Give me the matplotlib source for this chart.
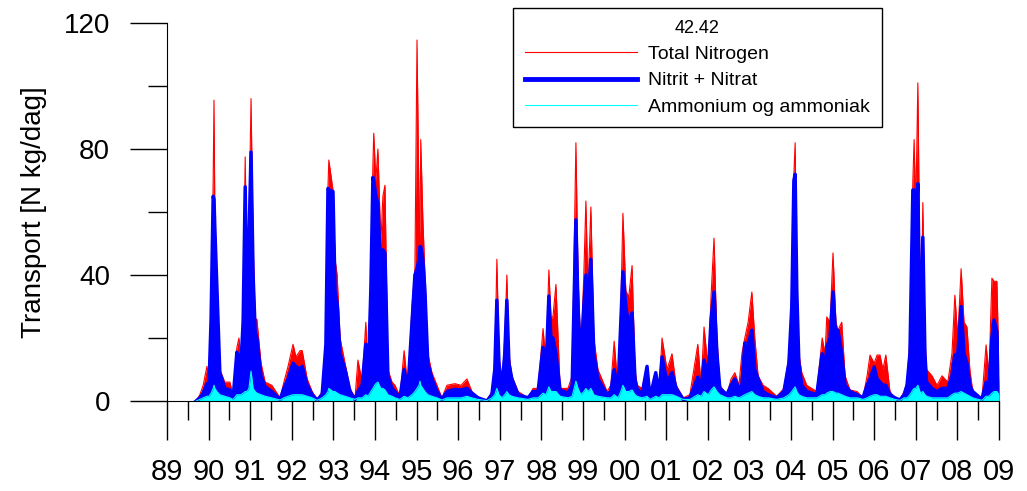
import matplotlib
matplotlib.use("Agg")
import matplotlib.pyplot as plt
import numpy as np

plt.rcParams['font.family'] = ['Liberation Sans', 'DejaVu Sans']

# decimal year, total N, nitrit+nitrat, ammonium (kg N/dag)
year = [1989.70, 1989.79, 1989.87, 1989.96, 1990.01, 1990.06, 1990.11, 1990.13, 1990.15, 1990.20,
        1990.27, 1990.39, 1990.51, 1990.59, 1990.68, 1990.73, 1990.78, 1990.83, 1990.88, 1990.92,
        1990.97, 1991.02, 1991.07, 1991.12, 1991.16, 1991.26, 1991.36, 1991.52, 1991.72, 1991.81,
        1991.91, 1992.03, 1992.10, 1992.20, 1992.25, 1992.37, 1992.49, 1992.61, 1992.73, 1992.82,
        1992.87, 1992.89, 1992.99, 1993.04, 1993.09, 1993.16, 1993.28, 1993.40, 1993.52, 1993.59,
        1993.69, 1993.78, 1993.83, 1993.90, 1993.95, 1993.97, 1994.02, 1994.07, 1994.14, 1994.19,
        1994.24, 1994.31, 1994.41, 1994.48, 1994.60, 1994.70, 1994.79, 1994.89, 1994.96, 1995.01,
        1995.06, 1995.08, 1995.10, 1995.15, 1995.20, 1995.27, 1995.37, 1995.49, 1995.61, 1995.73,
        1995.92, 1996.07, 1996.21, 1996.33, 1996.48, 1996.69, 1996.81, 1996.88, 1996.93, 1996.98,
        1997.05, 1997.12, 1997.17, 1997.22, 1997.29, 1997.44, 1997.68, 1997.80, 1997.92, 1998.04,
        1998.11, 1998.18, 1998.23, 1998.28, 1998.35, 1998.45, 1998.64, 1998.74, 1998.83, 1998.88,
        1998.95, 1999.02, 1999.07, 1999.12, 1999.19, 1999.26, 1999.36, 1999.58, 1999.67, 1999.75,
        1999.84, 1999.91, 1999.96, 2000.03, 2000.10, 2000.18, 2000.25, 2000.30, 2000.42, 2000.54,
        2000.61, 2000.75, 2000.83, 2000.90, 2001.02, 2001.14, 2001.24, 2001.41, 2001.57, 2001.76,
        2001.84, 2001.91, 2002.01, 2002.08, 2002.15, 2002.22, 2002.29, 2002.46, 2002.56, 2002.65,
        2002.75, 2002.82, 2002.89, 2002.97, 2003.06, 2003.13, 2003.21, 2003.33, 2003.45, 2003.66,
        2003.83, 2003.95, 2004.02, 2004.07, 2004.10, 2004.14, 2004.19, 2004.26, 2004.38, 2004.50,
        2004.62, 2004.75, 2004.82, 2004.86, 2004.94, 2005.01, 2005.08, 2005.13, 2005.22, 2005.30,
        2005.42, 2005.59, 2005.73, 2005.83, 2005.90, 2006.00, 2006.07, 2006.14, 2006.21, 2006.28,
        2006.38, 2006.50, 2006.62, 2006.72, 2006.79, 2006.86, 2006.93, 2006.96, 2007.00, 2007.05,
        2007.10, 2007.12, 2007.17, 2007.22, 2007.26, 2007.39, 2007.51, 2007.63, 2007.77, 2007.87,
        2007.94, 2008.01, 2008.09, 2008.16, 2008.23, 2008.30, 2008.37, 2008.59, 2008.69, 2008.76,
        2008.83, 2008.88, 2008.95, 2009.00]

total_n = [0, 2, 5, 11, 6, 26, 70, 95.5, 60, 38,
           10, 6, 6, 2, 17, 20, 13, 31, 77.5, 40,
           55, 96, 50, 26, 26, 12, 6, 5, 1, 6,
           11, 18, 14, 16, 16, 7, 3, 0.5, 3, 20,
           68, 76.5, 67, 45, 40, 20, 12, 4, 1, 13,
           6, 25, 6, 40, 75, 85, 70, 80, 50, 65,
           68.5, 10, 6, 5, 1.5, 16, 4, 30, 42, 114.6,
           60, 50, 83, 58, 40, 15, 9, 5, 1, 5,
           5.5, 5, 7, 3, 1, 0.3, 3, 12, 45, 15,
           4, 20, 40, 15, 8, 3, 1, 4, 4, 23,
           12, 41.6, 26, 27, 37, 4, 4, 8, 82, 40,
           15, 40, 63.5, 35, 61.6, 20, 10, 3, 5, 19,
           4, 30, 59.6, 35, 33, 43, 10, 5, 4, 11,
           2, 9, 3, 20, 10, 15, 5, 1, 2, 18,
           5, 23.5, 10, 33.6, 51.7, 20, 5, 2, 7, 9,
           5, 15, 20, 25, 34.6, 20, 8, 5, 4, 1.5,
           4, 14, 35, 72, 82, 40, 15, 9, 5, 4,
           3, 20, 15, 26.7, 25, 47, 25, 22.5, 25, 8,
           3.5, 3, 1, 8, 14.6, 12, 14.6, 14.6, 10, 14.6,
           3, 1, 0.3, 3, 6, 20, 70, 83, 60, 101,
           40, 20, 63, 20, 10, 8, 5, 8, 6, 15,
           33.6, 20, 42, 25, 23.5, 10, 3, 0.5, 17.8, 8,
           39, 38, 38, 10]

nitrat = [0, 1, 2.5, 5.5, 5, 26, 65, 64, 55, 36,
          9, 4, 3.5, 1, 15.5, 14, 12, 25, 68, 30,
          50, 79, 40, 22, 20, 8, 4.5, 3, 0.5, 4,
          7, 12, 11, 10, 11, 5, 2, 0.3, 2, 18,
          67.5, 67, 66.5, 35, 31, 15, 10, 3, 0.5, 3,
          5, 18, 5, 35, 71, 70, 65, 63, 40, 48,
          47, 8, 4, 3, 1, 10, 3.5, 25, 40, 42,
          45, 49, 49, 45, 35, 12, 7, 3, 0.5, 3,
          3.7, 3.5, 4, 2.5, 1, 0, 2, 10, 32, 12,
          3.5, 15, 32, 12, 7, 2, 1, 3, 3, 17,
          10, 33.3, 20, 20, 15, 3.5, 2.5, 5, 57.5, 30,
          12, 30, 40, 30, 45, 15, 7, 2, 3, 10,
          3, 25, 41, 30, 24, 28, 7, 4, 2, 11,
          1, 9, 2, 14, 6, 9, 4, 0.5, 1, 7.6,
          4, 13, 8, 26, 34.6, 15, 4, 2, 5, 7,
          4, 5, 18.4, 18, 22.5, 10, 7, 3, 2, 1,
          3, 12, 30, 70, 72, 35, 12, 5, 3, 2.5,
          2, 15, 10, 17, 20, 34.6, 20, 22.5, 15, 5,
          3, 2, 1, 5, 7, 10.8, 7, 6, 5, 5,
          2, 1, 0.3, 2, 5, 15, 67, 67, 55, 69,
          20, 17, 52, 15, 6, 4, 3, 4, 4, 8,
          14.6, 15, 30, 15, 12, 5, 3, 0.5, 6, 5,
          20, 25.7, 22, 5]

ammonium = [0, 0.5, 1, 1.5, 1.5, 2.5, 4, 5, 4, 3,
            2, 1.5, 1, 0.5, 2, 2, 2, 2.5, 3, 3,
            4, 9.5, 4, 3, 2.5, 2, 1.5, 1, 0.3, 1,
            1.5, 2, 2, 2, 2, 1.5, 1, 0.2, 1, 2,
            3, 4, 3, 3, 2.5, 2, 1.5, 1, 0.5, 1,
            1, 2, 1.5, 3, 4, 4.5, 5.5, 6, 4, 4,
            3.5, 2, 1.5, 1, 0.5, 1.5, 1, 2, 3, 4,
            5, 6.3, 5, 4, 3, 2, 1.5, 1, 0.3, 1,
            1, 1, 1.5, 1, 0.5, 0.1, 1, 2, 4, 2,
            1, 2, 3, 2, 1.5, 1, 0.5, 1, 1, 2.5,
            2, 4.5, 3, 3, 3, 1.5, 1, 1.5, 6.3, 4,
            2, 3, 4, 3, 4, 2, 1.5, 1, 1, 2,
            1, 3, 5, 3, 3, 3.5, 2, 1.5, 1, 1.5,
            0.5, 1.5, 1, 2, 2, 2, 1.5, 0.5, 0.5, 2,
            1.5, 3, 2, 3.5, 4.5, 3, 2, 1, 1, 1.5,
            1, 1.5, 2, 2.5, 3, 2, 1.5, 1, 1, 0.5,
            1, 2, 3, 4, 4.5, 3, 2, 1.5, 1, 1,
            1, 2, 2, 2.5, 3, 3, 2.5, 2.5, 2, 1.5,
            1, 1, 0.5, 1, 1.5, 2, 2, 1.5, 1.5, 1.5,
            1, 0.5, 0.2, 1, 1, 2, 3.5, 4, 4, 5,
            3, 2.5, 3, 2, 1.5, 1, 1, 1, 1, 2,
            2.5, 2.5, 3, 2.5, 2, 1.5, 1, 0.2, 1.5, 1.5,
            2.5, 3, 3, 2]

year_labels = ['89', '90', '91', '92', '93', '94', '95', '96', '97', '98', '99',
               '00', '01', '02', '03', '04', '05', '06', '07', '08', '09']

fig = plt.figure(figsize=(10.27, 4.91), dpi=100)
ax = fig.add_axes([0.1626, 0.1833, 0.8101, 0.7698])

ax.fill_between(year, 0, total_n, color='red', lw=0)
ax.plot(year, total_n, color='red', lw=0.8, label='Total Nitrogen')
ax.fill_between(year, 0, nitrat, color='blue', lw=0)
ax.plot(year, nitrat, color='blue', lw=2.5, label='Nitrit + Nitrat')
ax.fill_between(year, 0, ammonium, color='cyan', lw=0)
ax.plot(year, ammonium, color='cyan', lw=0.8, label='Ammonium og ammoniak')

ax.set_xlim(1989, 2009)
ax.set_ylim(0, 120)

ax.spines['top'].set_visible(False)
ax.spines['right'].set_visible(False)

ax.set_yticks([0, 40, 80, 120])
ax.set_yticks([20, 60, 100], minor=True)
ax.tick_params(axis='y', which='major', length=27, width=1, pad=14, labelsize=20)
ax.tick_params(axis='y', which='minor', length=14, width=1)

ax.set_xticks(np.arange(1989, 2010))
ax.set_xticklabels(year_labels)
ax.set_xticks(np.arange(1989.5, 2009, 1.0), minor=True)
ax.tick_params(axis='x', which='major', length=28, width=1, pad=13, labelsize=21)
ax.tick_params(axis='x', which='minor', length=14, width=1)

ax.set_ylabel('Transport [N kg/dag]', fontsize=20, labelpad=12)

leg = ax.legend(loc='upper left', bbox_to_anchor=(513 / 1027, 1 - 8 / 491),
                bbox_transform=fig.transFigure, borderaxespad=0,
                title='42.42', fontsize=14, title_fontsize=13,
                frameon=True, fancybox=False, framealpha=1,
                edgecolor='black', handlelength=5.8, handletextpad=0.55,
                labelspacing=0.45, borderpad=0.6)
leg.get_frame().set_linewidth(1.0)
leg.get_lines()[1].set_linewidth(3.5)

fig.savefig('out.png', dpi=100)
